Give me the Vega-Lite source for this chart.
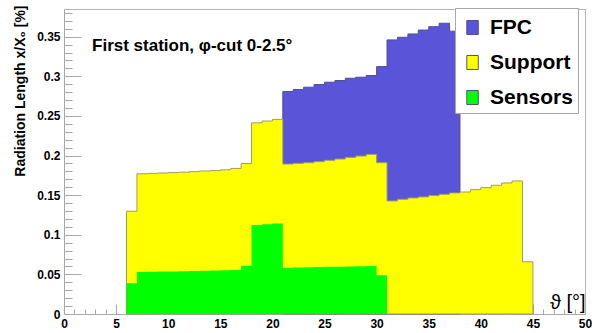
{
  "$schema": "https://vega.github.io/schema/vega-lite/v6.json",
  "width": 521,
  "height": 305,
  "autosize": {"type": "none"},
  "padding": {"left": 64, "top": 9, "right": 7, "bottom": 19},
  "config": {
    "view": {"stroke": "#b4b4b4", "strokeWidth": 1},
    "font": "Liberation Sans",
    "axis": {"grid": false}
  },
  "datasets": {
    "h": [
      {"t": 6, "c": "Sensors", "v": 0.0387},
      {"t": 7, "c": "Sensors", "v": 0.053},
      {"t": 8, "c": "Sensors", "v": 0.0533},
      {"t": 9, "c": "Sensors", "v": 0.0535},
      {"t": 10, "c": "Sensors", "v": 0.0538},
      {"t": 11, "c": "Sensors", "v": 0.054},
      {"t": 12, "c": "Sensors", "v": 0.0543},
      {"t": 13, "c": "Sensors", "v": 0.0546},
      {"t": 14, "c": "Sensors", "v": 0.0549},
      {"t": 15, "c": "Sensors", "v": 0.0552},
      {"t": 16, "c": "Sensors", "v": 0.0555},
      {"t": 17, "c": "Sensors", "v": 0.0608},
      {"t": 18, "c": "Sensors", "v": 0.1123},
      {"t": 19, "c": "Sensors", "v": 0.1133},
      {"t": 20, "c": "Sensors", "v": 0.1143},
      {"t": 21, "c": "Sensors", "v": 0.0585},
      {"t": 22, "c": "Sensors", "v": 0.0588},
      {"t": 23, "c": "Sensors", "v": 0.059},
      {"t": 24, "c": "Sensors", "v": 0.0593},
      {"t": 25, "c": "Sensors", "v": 0.0595},
      {"t": 26, "c": "Sensors", "v": 0.0598},
      {"t": 27, "c": "Sensors", "v": 0.06},
      {"t": 28, "c": "Sensors", "v": 0.0603},
      {"t": 29, "c": "Sensors", "v": 0.0606},
      {"t": 30, "c": "Sensors", "v": 0.049},
      {"t": 31, "c": "Sensors", "v": 0},
      {"t": 6, "c": "Support", "v": 0.091},
      {"t": 7, "c": "Support", "v": 0.124},
      {"t": 8, "c": "Support", "v": 0.1242},
      {"t": 9, "c": "Support", "v": 0.1245},
      {"t": 10, "c": "Support", "v": 0.1247},
      {"t": 11, "c": "Support", "v": 0.125},
      {"t": 12, "c": "Support", "v": 0.1254},
      {"t": 13, "c": "Support", "v": 0.1259},
      {"t": 14, "c": "Support", "v": 0.1261},
      {"t": 15, "c": "Support", "v": 0.1268},
      {"t": 16, "c": "Support", "v": 0.1283},
      {"t": 17, "c": "Support", "v": 0.1292},
      {"t": 18, "c": "Support", "v": 0.129},
      {"t": 19, "c": "Support", "v": 0.1303},
      {"t": 20, "c": "Support", "v": 0.1314},
      {"t": 21, "c": "Support", "v": 0.1308},
      {"t": 22, "c": "Support", "v": 0.1314},
      {"t": 23, "c": "Support", "v": 0.132},
      {"t": 24, "c": "Support", "v": 0.133},
      {"t": 25, "c": "Support", "v": 0.1345},
      {"t": 26, "c": "Support", "v": 0.1358},
      {"t": 27, "c": "Support", "v": 0.1377},
      {"t": 28, "c": "Support", "v": 0.1391},
      {"t": 29, "c": "Support", "v": 0.1409},
      {"t": 30, "c": "Support", "v": 0.142},
      {"t": 31, "c": "Support", "v": 0.1427},
      {"t": 32, "c": "Support", "v": 0.1448},
      {"t": 33, "c": "Support", "v": 0.1465},
      {"t": 34, "c": "Support", "v": 0.1478},
      {"t": 35, "c": "Support", "v": 0.1495},
      {"t": 36, "c": "Support", "v": 0.1511},
      {"t": 37, "c": "Support", "v": 0.1528},
      {"t": 38, "c": "Support", "v": 0.154},
      {"t": 39, "c": "Support", "v": 0.157},
      {"t": 40, "c": "Support", "v": 0.1595},
      {"t": 41, "c": "Support", "v": 0.1625},
      {"t": 42, "c": "Support", "v": 0.1654},
      {"t": 43, "c": "Support", "v": 0.168},
      {"t": 44, "c": "Support", "v": 0.0659},
      {"t": 45, "c": "Support", "v": 0},
      {"t": 21, "c": "FPC", "v": 0.0916},
      {"t": 22, "c": "FPC", "v": 0.0932},
      {"t": 23, "c": "FPC", "v": 0.0953},
      {"t": 24, "c": "FPC", "v": 0.0974},
      {"t": 25, "c": "FPC", "v": 0.0986},
      {"t": 26, "c": "FPC", "v": 0.0991},
      {"t": 27, "c": "FPC", "v": 0.0999},
      {"t": 28, "c": "FPC", "v": 0.0995},
      {"t": 29, "c": "FPC", "v": 0.0995},
      {"t": 30, "c": "FPC", "v": 0.1213},
      {"t": 31, "c": "FPC", "v": 0.2033},
      {"t": 32, "c": "FPC", "v": 0.2045},
      {"t": 33, "c": "FPC", "v": 0.207},
      {"t": 34, "c": "FPC", "v": 0.2106},
      {"t": 35, "c": "FPC", "v": 0.2132},
      {"t": 36, "c": "FPC", "v": 0.2159},
      {"t": 37, "c": "FPC", "v": 0.2042},
      {"t": 38, "c": "FPC", "v": 0}
    ]
  },
  "layer": [
    {
      "data": {"name": "h"},
      "transform": [
        {"calculate": "indexof(['Sensors','Support','FPC'], datum.c)", "as": "o"},
        {"stack": "v", "groupby": ["t"], "sort": [{"field": "o", "order": "ascending"}], "as": ["v0", "v1"]},
        {"filter": "datum.c === 'FPC'"}
      ],
      "mark": {"type": "area", "interpolate": "step-after", "stroke": "#50508c", "strokeWidth": 1, "opacity": 1},
      "encoding": {
        "x": {
          "field": "t", "type": "quantitative",
          "scale": {"domain": [0, 50], "nice": false, "zero": false},
          "axis": {
            "orient": "bottom", "values": [0, 5, 10, 15, 20, 25, 30, 35, 40, 45, 50], "format": "d",
            "ticks": false, "domainColor": "#a8a8a8", "labelFlush": false, "labelOverlap": false,
            "labelFont": "Liberation Sans", "labelFontSize": 12, "labelFontWeight": "bold", "labelColor": "black", "labelPadding": 4,
            "title": "ϑ [°]", "titleFont": "Liberation Sans", "titleFontSize": 20, "titleFontWeight": "normal", "titleColor": "black",
            "titleAnchor": "end", "titleAlign": "right", "titleBaseline": "alphabetic", "titleX": 521, "titleY": -6
          }
        },
        "y": {
          "field": "v1", "type": "quantitative", "stack": null,
          "scale": {"domain": [0, 0.385], "nice": false},
          "axis": {
            "orient": "left", "values": [0, 0.05, 0.1, 0.15, 0.2, 0.25, 0.3, 0.35], "format": "~g",
            "ticks": false, "domainColor": "#a8a8a8", "labelFlush": false, "labelOverlap": false,
            "labelFont": "Liberation Sans", "labelFontSize": 12, "labelFontWeight": "bold", "labelColor": "black", "labelPadding": 4,
            "title": "Radiation Length x/X₀ [%]", "titleFont": "Liberation Sans", "titleFontSize": 14, "titleFontWeight": "bold", "titleColor": "black",
            "titleAngle": -90, "titleAlign": "right", "titleBaseline": "alphabetic", "titleX": -40, "titleY": -4
          }
        },
        "color": {
          "field": "c", "type": "nominal",
          "scale": {"domain": ["FPC", "Support", "Sensors"], "range": ["#5954d8", "#ffff00", "#00ff00"]},
          "legend": {
            "title": null, "orient": "none", "legendX": 391, "legendY": -1,
            "fillColor": "white", "strokeColor": "#a8a8a8", "padding": 5, "cornerRadius": 0,
            "symbolType": "M-0.55,-0.5H0.27V0.5H-0.55Z", "symbolSize": 784, "symbolStrokeWidth": 1, "symbolOpacity": 1,
            "labelFont": "Liberation Sans", "labelFontSize": 21, "labelFontWeight": "bold", "labelColor": "black",
            "labelOffset": 1, "rowPadding": 10, "labelExpr": "datum.label + '     '",
            "encode": {"symbols": {"update": {"stroke": {"signal": "datum.value === 'FPC' ? '#50508c' : datum.value === 'Support' ? '#a0a060' : '#00ff00'"}}}}
          }
        }
      }
    },
    {
      "data": {"name": "h"},
      "transform": [
        {"calculate": "indexof(['Sensors','Support','FPC'], datum.c)", "as": "o"},
        {"stack": "v", "groupby": ["t"], "sort": [{"field": "o", "order": "ascending"}], "as": ["v0", "v1"]},
        {"filter": "datum.c === 'Support'"}
      ],
      "mark": {"type": "area", "interpolate": "step-after", "stroke": "#9c9c70", "strokeWidth": 1, "opacity": 1},
      "encoding": {
        "x": {
          "field": "t", "type": "quantitative",
          "axis": {"orient": "bottom", "values": [5, 10, 15, 20, 25, 30, 35, 40, 45], "labels": false, "domain": false, "tickSize": -10, "tickColor": "#a8a8a8", "title": null}
        },
        "y": {
          "field": "v1", "type": "quantitative", "stack": null,
          "axis": {"orient": "left", "values": [0.05, 0.1, 0.15, 0.2, 0.25, 0.3, 0.35], "labels": false, "domain": false, "tickSize": -17, "tickColor": "#a8a8a8", "title": null}
        },
        "color": {"field": "c", "type": "nominal"}
      }
    },
    {
      "data": {"name": "h"},
      "transform": [
        {"calculate": "indexof(['Sensors','Support','FPC'], datum.c)", "as": "o"},
        {"stack": "v", "groupby": ["t"], "sort": [{"field": "o", "order": "ascending"}], "as": ["v0", "v1"]},
        {"filter": "datum.c === 'Sensors'"}
      ],
      "mark": {"type": "area", "interpolate": "step-after", "opacity": 1},
      "encoding": {
        "x": {
          "field": "t", "type": "quantitative",
          "axis": {"orient": "bottom", "values": [1, 2, 3, 4, 6, 7, 8, 9, 11, 12, 13, 14, 16, 17, 18, 19, 21, 22, 23, 24, 26, 27, 28, 29, 31, 32, 33, 34, 36, 37, 38, 39, 41, 42, 43, 44, 46, 47, 48, 49], "labels": false, "domain": false, "tickSize": -5, "tickColor": "#a8a8a8", "title": null}
        },
        "y": {
          "field": "v1", "type": "quantitative", "stack": null,
          "axis": {"orient": "left", "values": [0.01, 0.02, 0.03, 0.04, 0.06, 0.07, 0.08, 0.09, 0.11, 0.12, 0.13, 0.14, 0.16, 0.17, 0.18, 0.19, 0.21, 0.22, 0.23, 0.24, 0.26, 0.27, 0.28, 0.29, 0.31, 0.32, 0.33, 0.34, 0.36, 0.37, 0.38], "labels": false, "domain": false, "tickSize": -8, "tickColor": "#a8a8a8", "title": null}
        },
        "color": {"field": "c", "type": "nominal"}
      }
    },
    {
      "data": {"values": [{}]},
      "mark": {"type": "text", "align": "left", "baseline": "alphabetic", "font": "Liberation Sans", "fontSize": 17, "fontWeight": "bold", "color": "black"},
      "encoding": {
        "x": {"datum": 2.69, "type": "quantitative", "axis": null},
        "y": {"datum": 0.3324, "type": "quantitative", "axis": null},
        "text": {"value": "First station, φ-cut 0-2.5°"}
      }
    }
  ],
  "resolve": {"axis": {"x": "independent", "y": "independent"}}
}
